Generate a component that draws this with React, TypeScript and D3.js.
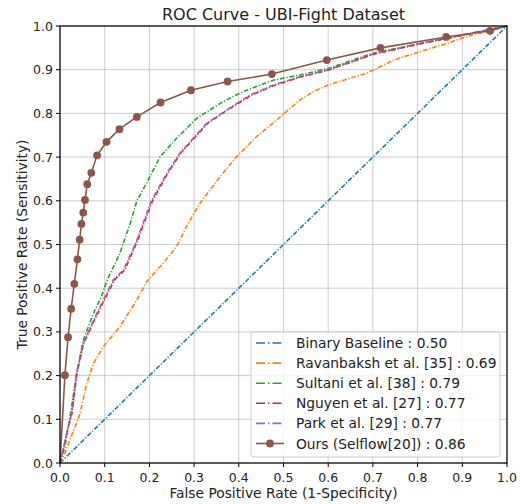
import React from "react";
import * as d3 from "d3";

// ROC points (fpr, tpr)
const baseFpr = [0, 1];
const baseTpr = [0, 1];

const ravFpr = [0, 0.011, 0.022, 0.034, 0.045, 0.06, 0.075, 0.097, 0.134, 0.172, 0.194, 0.231, 0.261, 0.283, 0.298, 0.313, 0.358, 0.395, 0.44, 0.485, 0.515, 0.537, 0.567, 0.6, 0.641, 0.686, 0.709, 0.746, 0.805, 0.865, 0.91, 0.955, 1];
const ravTpr = [0, 0.022, 0.053, 0.083, 0.114, 0.182, 0.228, 0.266, 0.312, 0.373, 0.415, 0.457, 0.495, 0.541, 0.568, 0.594, 0.655, 0.701, 0.747, 0.785, 0.812, 0.831, 0.85, 0.865, 0.878, 0.892, 0.903, 0.922, 0.941, 0.96, 0.976, 0.987, 1];

const sulFpr = [0, 0.011, 0.026, 0.037, 0.052, 0.075, 0.093, 0.104, 0.134, 0.157, 0.172, 0.194, 0.224, 0.261, 0.306, 0.365, 0.41, 0.477, 0.537, 0.6, 0.701, 0.805, 0.902, 1];
const sulTpr = [0, 0.037, 0.129, 0.205, 0.281, 0.343, 0.381, 0.415, 0.48, 0.548, 0.6, 0.641, 0.701, 0.743, 0.789, 0.827, 0.85, 0.876, 0.888, 0.903, 0.938, 0.96, 0.979, 1];

const nguFpr = [0, 0.007, 0.015, 0.027, 0.038, 0.053, 0.077, 0.099, 0.122, 0.145, 0.172, 0.207, 0.241, 0.27, 0.293, 0.33, 0.375, 0.427, 0.479, 0.538, 0.6, 0.701, 0.805, 0.902, 1];
const nguTpr = [0, 0.03, 0.068, 0.114, 0.205, 0.274, 0.327, 0.373, 0.419, 0.442, 0.505, 0.6, 0.663, 0.709, 0.735, 0.777, 0.808, 0.841, 0.864, 0.883, 0.899, 0.935, 0.959, 0.979, 1];

const parkFpr = [0, 0.007, 0.015, 0.026, 0.037, 0.052, 0.075, 0.097, 0.119, 0.142, 0.17, 0.205, 0.239, 0.268, 0.291, 0.328, 0.373, 0.425, 0.477, 0.537, 0.6, 0.701, 0.805, 0.902, 1];
const parkTpr = [0, 0.03, 0.068, 0.114, 0.205, 0.274, 0.327, 0.373, 0.419, 0.442, 0.505, 0.602, 0.663, 0.709, 0.735, 0.777, 0.808, 0.842, 0.865, 0.884, 0.9, 0.936, 0.96, 0.98, 1];

const oursFpr = [0, 0.011, 0.018, 0.025, 0.032, 0.039, 0.044, 0.048, 0.052, 0.056, 0.061, 0.07, 0.083, 0.104, 0.133, 0.172, 0.225, 0.293, 0.375, 0.474, 0.597, 0.717, 0.864, 0.962, 1];
const oursTpr = [0, 0.201, 0.288, 0.353, 0.41, 0.466, 0.511, 0.547, 0.573, 0.602, 0.638, 0.664, 0.704, 0.735, 0.764, 0.792, 0.825, 0.853, 0.873, 0.89, 0.922, 0.95, 0.975, 0.989, 1];

const labels = [
  "Binary Baseline : 0.50",
  "Ravanbaksh et al. [35] : 0.69",
  "Sultani et al. [38] : 0.79",
  "Nguyen et al. [27] : 0.77",
  "Park et al. [29] : 0.77",
  "Ours (Selflow[20]) : 0.86",
];
const colors = ["#1f77b4", "#ff7f0e", "#2ca02c", "#d62728", "#9467bd", "#8c564b"];
const ticks = [0, 0.1, 0.2, 0.3, 0.4, 0.5, 0.6, 0.7, 0.8, 0.9, 1.0];

const W = 520, H = 504;
const margin = { top: 26, right: 13, bottom: 41, left: 60 };
const font = "DejaVu Sans, sans-serif";
const dashdot = "4.8,1.8,1.2,1.8";

export default function App() {
  const x = d3.scaleLinear().domain([0, 1]).range([margin.left, W - margin.right]);
  const y = d3.scaleLinear().domain([0, 1]).range([H - margin.bottom, margin.top]);

  const series = [
    [baseFpr, baseTpr],
    [ravFpr, ravTpr],
    [sulFpr, sulTpr],
    [nguFpr, nguTpr],
    [parkFpr, parkTpr],
    [oursFpr, oursTpr],
  ];
  const line = d3.line<number[]>().x(d => x(d[0])).y(d => y(d[1]));
  const pts = (fx: number[], ty: number[]) => fx.map((v, i) => [v, ty[i]]);

  const lx = 251, ly = 332;

  return (
    <svg width={W} height={H} style={{ position: "absolute", left: 0, top: 0, background: "#fff" }} fontFamily={font}>
      {/* grid */}
      {ticks.map(t => (
        <g key={"g" + t}>
          <line x1={x(t)} x2={x(t)} y1={y(0)} y2={y(1)} stroke="#b0b0b0" strokeOpacity={0.65} strokeWidth={1} />
          <line x1={x(0)} x2={x(1)} y1={y(t)} y2={y(t)} stroke="#b0b0b0" strokeOpacity={0.65} strokeWidth={1} />
        </g>
      ))}

      {/* curves */}
      {series.map((s, i) => (
        <path key={"c" + i} d={line(pts(s[0], s[1])) || ""} fill="none" stroke={colors[i]}
          strokeWidth={1.6} strokeDasharray={i === 5 ? undefined : dashdot}
          strokeDashoffset={i === 4 ? 2 : 0} />
      ))}
      {oursFpr.map((v, i) =>
        i === 0 || i === oursFpr.length - 1 ? null : (
          <circle key={"m" + i} cx={x(v)} cy={y(oursTpr[i])} r={3.9} fill={colors[5]} />
        )
      )}

      {/* spines */}
      <rect x={x(0)} y={y(1)} width={x(1) - x(0)} height={y(0) - y(1)} fill="none" stroke="#000" strokeWidth={1.2} />

      {/* ticks */}
      {ticks.map(t => (
        <g key={"t" + t} fontSize={12.5} fill="#222">
          <line x1={x(t)} x2={x(t)} y1={y(0)} y2={y(0) + 4} stroke="#000" />
          <text x={x(t)} y={y(0) + 18.5} textAnchor="middle">{t.toFixed(1)}</text>
          <line x1={x(0) - 4} x2={x(0)} y1={y(t)} y2={y(t)} stroke="#000" />
          <text x={x(0) - 7} y={y(t) + 4.5} textAnchor="end">{t.toFixed(1)}</text>
        </g>
      ))}

      {/* titles */}
      <text x={(x(0) + x(1)) / 2} y={20} textAnchor="middle" fontSize={16} fill="#222">ROC Curve - UBI-Fight Dataset</text>
      <text x={(x(0) + x(1)) / 2} y={497.5} textAnchor="middle" fontSize={13.8} fill="#222">False Positive Rate (1-Specificity)</text>
      <text transform={`translate(26.5,${(y(0) + y(1)) / 2}) rotate(-90)`} textAnchor="middle" fontSize={13.8} fill="#222">True Positive Rate (Sensitivity)</text>

      {/* legend */}
      <rect x={lx} y={ly} width={249} height={125} rx={3} fill="#fff" fillOpacity={0.8} stroke="#ccc" />
      {labels.map((l, i) => {
        const cy = ly + 11 + i * 20.1;
        return (
          <g key={"l" + i}>
            <line x1={lx + 5} x2={lx + 33} y1={cy} y2={cy} stroke={colors[i]} strokeWidth={1.6}
              strokeDasharray={i === 5 ? undefined : "9,3,1.5,3"} />
            {i === 5 && <circle cx={lx + 19} cy={cy} r={3.9} fill={colors[5]} />}
            <text x={lx + 45} y={cy + 5} fontSize={13.8} fill="#222">{l}</text>
          </g>
        );
      })}
    </svg>
  );
}
